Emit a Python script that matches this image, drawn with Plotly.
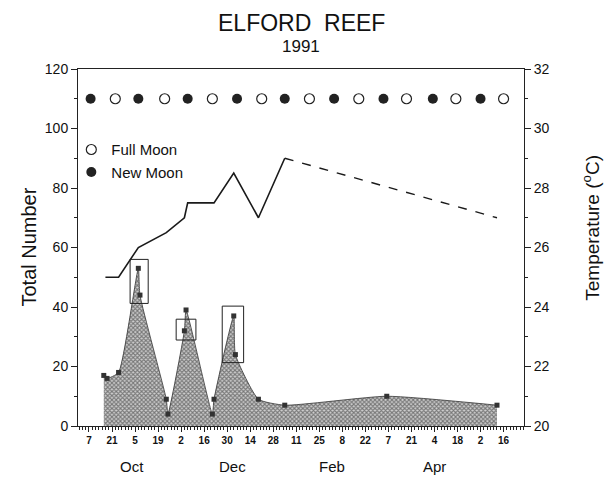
import plotly.graph_objects as go

# Larval counts per sampling date
count_dates = ["1991-09-16", "1991-09-18", "1991-09-25", "1991-10-07", "1991-10-08",
               "1991-10-24", "1991-10-25", "1991-11-04", "1991-11-05", "1991-11-21",
               "1991-11-22", "1991-12-04", "1991-12-05", "1991-12-19", "1992-01-04",
               "1992-03-06", "1992-05-12"]
count_values = [17, 16, 18, 53, 44, 9, 4, 32, 39, 4, 9, 37, 24, 9, 7, 10, 7]

# Water temperature (measured, then interpolated to the last sample)
temp_dates = ["1991-09-17", "1991-09-25", "1991-10-07", "1991-10-24", "1991-11-04",
              "1991-11-06", "1991-11-22", "1991-12-04", "1991-12-19", "1992-01-04"]
temp_values = [25, 25, 26, 26.5, 27, 27.5, 27.5, 28.5, 27, 29]
temp_gap_dates = ["1992-01-04", "1992-05-12"]
temp_gap_values = [29, 27]

# Lunar phases
full_moon_dates = ["1991-09-23", "1991-10-23", "1991-11-21", "1991-12-21", "1992-01-19",
                   "1992-02-18", "1992-03-18", "1992-04-17", "1992-05-16"]
new_moon_dates = ["1991-09-08", "1991-10-07", "1991-11-06", "1991-12-06", "1992-01-04",
                  "1992-02-03", "1992-03-04", "1992-04-03", "1992-05-02"]
moon_level = 110

# Month labels under the date axis
month_labels = ["Oct", "Dec", "Feb", "Apr"]
month_label_dates = ["1991-10-03", "1991-12-03", "1992-02-02", "1992-04-04"]

# Boxes around the new-moon peaks: (start, end, low, high)
peak_boxes = [("1991-10-02", "1991-10-13", 41.2, 56.0),
              ("1991-10-30", "1991-11-11", 28.9, 35.9),
              ("1991-11-27", "1991-12-10", 21.3, 40.3)]

FONT = "Liberation Sans, Arial, Helvetica, sans-serif"
DAY = 86400000
INK = "#111111"

fig = go.Figure()

fig.add_trace(go.Scatter(
    x=count_dates, y=count_values, mode="lines",
    line=dict(color="#333333", width=0.8, shape="spline", smoothing=0.5),
    fill="tozeroy", fillcolor="#a0a0a0",
    fillpattern=dict(shape="x", size=3, solidity=0.6, fgcolor="#222222", bgcolor="#cfcfcf"),
    showlegend=False, hoverinfo="skip"))
fig.add_trace(go.Scatter(
    x=count_dates, y=count_values, mode="markers",
    marker=dict(symbol="square", size=5, color="#333333"),
    showlegend=False))

fig.add_trace(go.Scatter(
    x=full_moon_dates, y=[moon_level] * len(full_moon_dates), mode="markers",
    name="Full Moon",
    marker=dict(symbol="circle-open", size=10, color="#222222", line=dict(width=1.2))))
fig.add_trace(go.Scatter(
    x=new_moon_dates, y=[moon_level] * len(new_moon_dates), mode="markers",
    name="New Moon",
    marker=dict(symbol="circle", size=10, color="#222222")))

fig.add_trace(go.Scatter(
    x=temp_dates, y=temp_values, mode="lines", yaxis="y2",
    line=dict(color="#1a1a1a", width=1.6), showlegend=False))
fig.add_trace(go.Scatter(
    x=temp_gap_dates, y=temp_gap_values, mode="lines", yaxis="y2",
    line=dict(color="#1a1a1a", width=1.4, dash="dash"), showlegend=False))

for x0, x1, y0, y1 in peak_boxes:
    fig.add_shape(type="rect", xref="x", yref="y", x0=x0, x1=x1, y0=y0, y1=y1,
                  line=dict(color="#222222", width=1), fillcolor="rgba(0,0,0,0)")

for label, d in zip(month_labels, month_label_dates):
    fig.add_annotation(x=d, y=-0.113, xref="x", yref="paper", text=label,
                       xanchor="center", yanchor="middle",
                       showarrow=False, font=dict(size=15, color=INK, family=FONT))

# Title lines
fig.add_annotation(x=0.5, y=1.129, xref="paper", yref="paper", text="ELFORD  REEF",
                   xanchor="center", yanchor="middle", showarrow=False,
                   font=dict(size=23, color=INK, family=FONT))
fig.add_annotation(x=0.5, y=1.062, xref="paper", yref="paper", text="1991",
                   xanchor="center", yanchor="middle", showarrow=False,
                   font=dict(size=17, color=INK, family=FONT))

# Axis titles
fig.add_annotation(x=-0.112, y=0.5, xref="paper", yref="paper", text="Total Number",
                   xanchor="center", yanchor="middle", textangle=-90, showarrow=False,
                   font=dict(size=20, color=INK, family=FONT))
fig.add_annotation(x=1.15, y=0.555, xref="paper", yref="paper",
                   text="Temperature (<sup>o</sup>C)",
                   xanchor="center", yanchor="middle", textangle=-90, showarrow=False,
                   font=dict(size=19, color=INK, family=FONT))

fig.update_layout(
    width=610, height=481,
    margin=dict(l=78, r=86, t=69, b=55),
    paper_bgcolor="white", plot_bgcolor="white",
    font=dict(family=FONT, color=INK),
    legend=dict(x=-0.015, y=0.82, xanchor="left", yanchor="top",
                bgcolor="rgba(0,0,0,0)", font=dict(size=15, family=FONT),
                itemwidth=30, tracegroupgap=0),
    xaxis=dict(type="date", range=["1991-08-31 08:00", "1992-05-28 10:00"],
               tick0="1991-09-07", dtick=14 * DAY, tickformat="%-d",
               ticks="outside", ticklen=5, tickwidth=1, tickcolor="#222222",
               showline=True, linecolor="#222222", linewidth=1, mirror=True,
               showgrid=False, zeroline=False,
               tickfont=dict(size=10, family=FONT, color=INK, weight="bold"),
               minor=dict(tick0="1991-09-07", dtick=2 * DAY, ticks="outside", ticklen=3,
                          tickcolor="#222222", showgrid=False)),
    yaxis=dict(range=[0, 120], dtick=20, ticks="outside", ticklen=6, tickwidth=1,
               tickcolor="#222222", showline=True, linecolor="#222222", linewidth=1,
               showgrid=False, zeroline=False,
               tickfont=dict(size=14, family=FONT, color=INK),
               minor=dict(dtick=10, ticks="outside", ticklen=3, tickcolor="#222222",
                          showgrid=False)),
    yaxis2=dict(range=[20, 32], dtick=2, overlaying="y", side="right",
                ticks="outside", ticklen=6, tickwidth=1, tickcolor="#222222",
                showline=True, linecolor="#222222", linewidth=1,
                showgrid=False, zeroline=False,
                tickfont=dict(size=14, family=FONT, color=INK),
                minor=dict(dtick=1, ticks="outside", ticklen=3, tickcolor="#222222",
                           showgrid=False)),
)

fig.write_html("out.html")
